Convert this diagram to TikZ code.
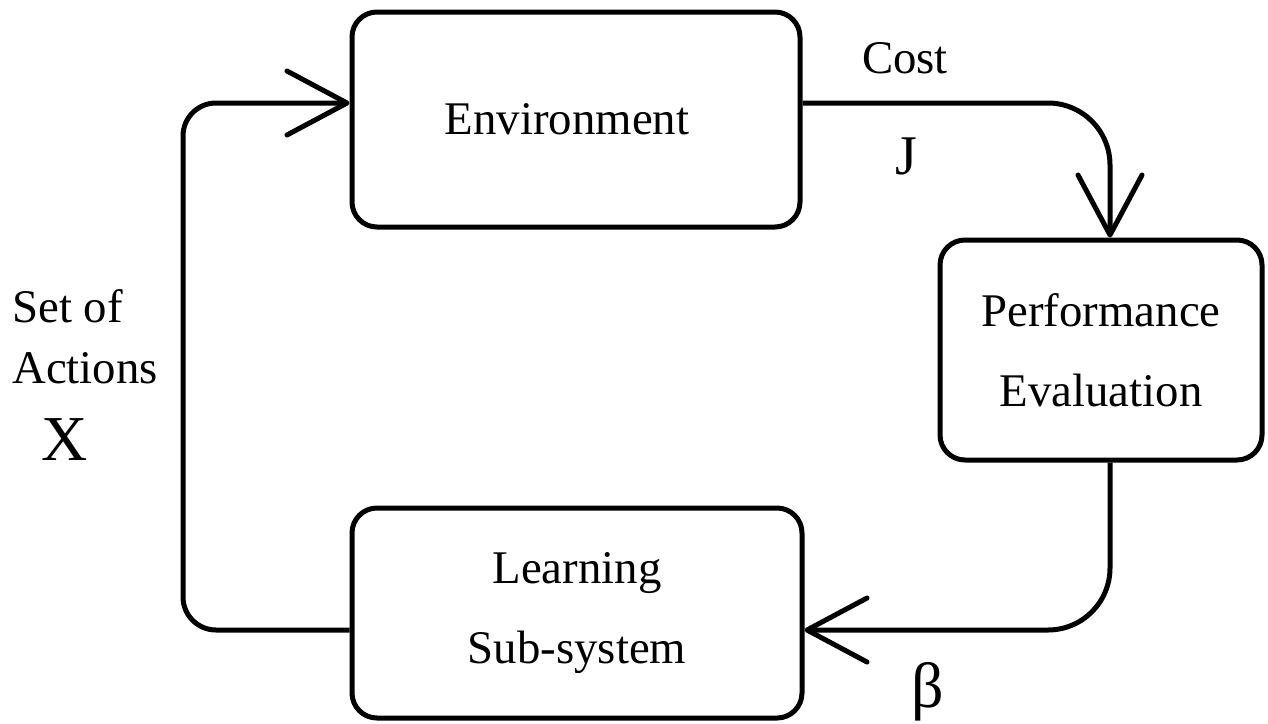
\documentclass[tikz,border=0pt]{standalone}
\usepackage{fontspec}
\setmainfont{Liberation Serif}
\usetikzlibrary{arrows.meta}
\begin{document}
\begin{tikzpicture}[x=0.5pt,y=-0.5pt,
  box/.style={draw,line width=2.5pt,rounded corners=12.5pt,inner sep=0pt,align=center,font=\fontsize{23.4}{40}\selectfont},
  conn/.style={line width=2.5pt,-{Straight Barb[length=30pt,width=32pt,round]}},
  lbl/.style={font=\fontsize{23.4}{30.5}\selectfont,inner sep=0pt},
  sym/.style={font=\fontsize{32}{36}\selectfont,inner sep=0pt}]
\useasboundingbox (0,0) rectangle (1268,723);
\node[box,minimum width=224pt,minimum height=107.5pt] (env) at (576,119.5) {Environment\hspace{9pt}};
\node[box,minimum width=161pt,minimum height=110pt] (perf) at (1101,350) {Performance\\Evaluation};
\node[box,minimum width=225pt,minimum height=105pt] (learn) at (577,613) {Learning\\Sub-system};
\coordinate (top) at (0,103);
\coordinate (bot) at (0,630);
\coordinate (px) at (1110,0);
\coordinate (lx) at (183,0);
\draw[conn,rounded corners=31pt] (env.east |- top) -| (perf.north -| px);
\draw[conn,rounded corners=31pt] (perf.south -| px) |- (learn.east |- bot);
\draw[conn,rounded corners=16.5pt] (learn.west |- bot) -| (lx |- top) -- (env.west |- top);
\node[lbl,anchor=base] (cost) at (905,73) {Cost};
\node[font=\fontsize{28}{30}\selectfont,inner sep=0pt,anchor=base] (J) at (906,174) {J};
\node[lbl,anchor=base west,align=left] (set) at (12,383) {Set of\\Actions};
\node[sym,anchor=base] (X) at (65,460) {X};
\node[sym,anchor=base] (beta) at (928,707) {β};
\end{tikzpicture}
\end{document}
